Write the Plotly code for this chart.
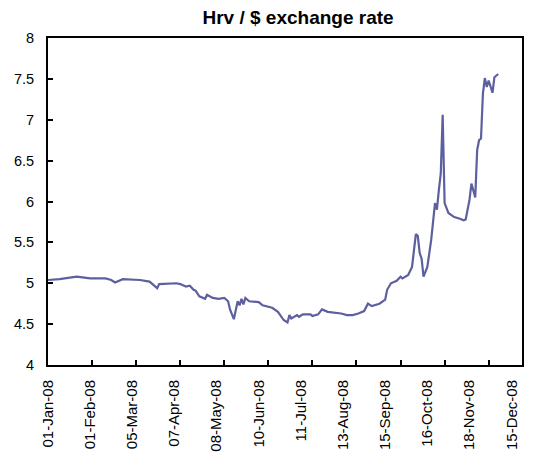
import plotly.graph_objects as go

# Trading-day index (business days from 01-Jan-08) and HRK/USD rate
day = [0, 6, 15, 22, 30, 33, 35, 39, 48, 53, 57, 58, 67, 69, 72, 74, 76, 77,
       79, 82, 83, 86, 89, 92, 94, 95, 97, 99, 100, 101, 102, 103, 105, 110,
       112, 117, 120, 123, 125, 126, 127, 130, 131, 133, 137, 138, 141, 143,
       146, 150, 153, 156, 159, 162, 165, 167, 169, 173, 176, 177, 179, 182,
       184, 185, 188, 190, 191, 192, 193, 194, 195, 196, 198, 199, 200, 202,
       203, 204, 205, 206, 207, 209, 211, 212, 215, 217, 218, 220, 221, 223,
       224, 225, 226, 227, 228, 229, 230, 231, 232, 233, 234, 235]
rate = [5.04, 5.05, 5.08, 5.06, 5.06, 5.04, 5.01, 5.05, 5.04, 5.02, 4.94, 4.99,
        5.00, 4.99, 4.96, 4.97, 4.92, 4.91, 4.84, 4.81, 4.86, 4.82, 4.81, 4.82,
        4.78, 4.68, 4.56, 4.78, 4.73, 4.81, 4.74, 4.82, 4.78, 4.77, 4.73, 4.70,
        4.65, 4.55, 4.52, 4.61, 4.57, 4.61, 4.59, 4.62, 4.62, 4.60, 4.62, 4.68,
        4.65, 4.64, 4.63, 4.61, 4.61, 4.63, 4.66, 4.75, 4.72, 4.75, 4.80, 4.92,
        5.00, 5.03, 5.08, 5.06, 5.10, 5.20, 5.41, 5.60, 5.58, 5.37, 5.30, 5.08,
        5.20, 5.35, 5.53, 5.98, 5.90, 6.14, 6.34, 7.06, 5.98, 5.86, 5.83, 5.81,
        5.79, 5.77, 5.78, 6.02, 6.22, 6.05, 6.63, 6.75, 6.77, 7.32, 7.51, 7.40,
        7.48, 7.39, 7.33, 7.52, 7.54, 7.56]

# Tick marks (every 23 trading days) and date labels (every 22 trading days)
tick_days = [0, 23, 46, 69, 92, 115, 138, 161, 184, 207, 230]
label_days = [0, 22, 44, 66, 88, 110, 132, 154, 176, 198, 220, 242]
label_text = ["01-Jan-08", "01-Feb-08", "05-Mar-08", "07-Apr-08", "08-May-08",
              "10-Jun-08", "11-Jul-08", "13-Aug-08", "15-Sep-08", "16-Oct-08",
              "18-Nov-08", "15-Dec-08"]
x_range = [0, 247.4]

y_ticks = [4, 4.5, 5, 5.5, 6, 6.5, 7, 7.5, 8]

fig = go.Figure()
fig.add_trace(go.Scatter(x=day, y=rate, mode="lines",
                         line=dict(color="#5D5F9E", width=2.2),
                         showlegend=False, hoverinfo="skip"))
# invisible helper trace on the label axis
fig.add_trace(go.Scatter(x=[label_days[0]], y=[y_ticks[0]], xaxis="x2",
                         mode="markers", marker=dict(opacity=0),
                         showlegend=False, hoverinfo="skip"))

font_family = "Liberation Sans, Arial, sans-serif"
fig.update_layout(
    width=540, height=453,
    margin=dict(l=48, r=18, t=38, b=88),
    paper_bgcolor="white", plot_bgcolor="white",
    title=dict(text="<b>Hrv / $ exchange rate</b>", x=0.552, xanchor="center",
               y=0.962, yanchor="middle",
               font=dict(family=font_family, size=19, color="black")),
    font=dict(family=font_family, size=14, color="black"),
    xaxis=dict(range=x_range, tickmode="array", tickvals=tick_days,
               showticklabels=False,
               ticks="inside", ticklen=5, tickwidth=2, tickcolor="black",
               showline=True, linecolor="black", linewidth=2, mirror=True,
               showgrid=False, zeroline=False, automargin=False),
    xaxis2=dict(range=x_range, overlaying="x", side="bottom", anchor="y",
                tickmode="array", tickvals=label_days, ticktext=label_text,
                tickangle=-90, ticks="", ticklabelstandoff=11,
                tickfont=dict(size=15),
                showline=False, showgrid=False, zeroline=False,
                automargin=False),
    yaxis=dict(range=[y_ticks[0], y_ticks[-1]], tickmode="array",
               tickvals=y_ticks, ticktext=[f"{v:g}" for v in y_ticks],
               ticks="inside", ticklen=5, tickwidth=2, tickcolor="black",
               ticklabelstandoff=9, tickfont=dict(size=14.5),
               showline=True, linecolor="black", linewidth=2, mirror=True,
               showgrid=False, zeroline=False, automargin=False),
)

fig.write_html("out.html",
               config={"displayModeBar": False, "staticPlot": True},
               post_script="document.body.style.margin='0px';"
                           "document.body.style.overflow='hidden';")
